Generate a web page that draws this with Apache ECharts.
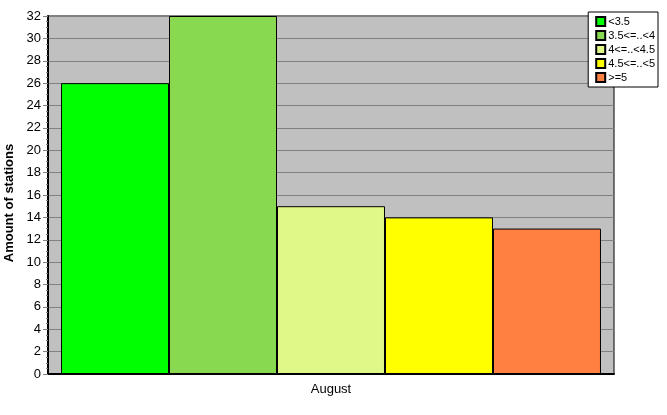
<!DOCTYPE html>
<html>
<head>
<meta charset="utf-8">
<script src="https://cdn.jsdelivr.net/npm/echarts@6/dist/echarts.min.js"></script>
<style>
  html, body { margin: 0; padding: 0; background: #fff; }
  #chart { width: 667px; height: 415px; }
</style>
</head>
<body>
<div id="chart"></div>
<script>
const categories = ['August']
const seriesNames = ['<3.5', '3.5<=..<4', '4<=..<4.5', '4.5<=..<5', '>=5']
const seriesValues = [[26], [32], [15], [14], [13]]
const seriesColors = ['#00ff00', '#88d850', '#e0f888', '#ffff00', '#ff8040']

const chart = echarts.init(document.getElementById('chart'), null, { renderer: 'canvas' })
const font = 'Liberation Sans, Arial, sans-serif'

chart.setOption({
  animation: false,
  backgroundColor: '#ffffff',
  textStyle: { fontFamily: font },
  grid: {
    left: 48, right: 53, top: 16, bottom: 41,
    outerBoundsMode: 'none',
    containLabel: false,
    show: true,
    backgroundColor: '#c0c0c0',
    borderColor: '#000000',
    borderWidth: 1
  },
  legend: {
    orient: 'vertical',
    right: 9,
    top: 12,
    backgroundColor: '#ffffff',
    borderColor: '#000000',
    borderWidth: 1,
    padding: [4, 3, 4, 7],
    itemWidth: 9,
    itemHeight: 9,
    itemGap: 3,
    icon: 'rect',
    textStyle: { fontFamily: font, fontSize: 11, color: '#000', padding: [0, 0, 0, -2] },
    data: seriesNames
  },
  xAxis: {
    type: 'category',
    data: categories,
    axisLine: { lineStyle: { color: '#000', width: 2 } },
    axisTick: { alignWithLabel: true, length: 5, lineStyle: { color: '#808080' } },
    axisLabel: { color: '#000', fontSize: 13, margin: 9, fontFamily: font },
    splitLine: { show: false }
  },
  yAxis: {
    type: 'value',
    min: 0,
    max: 32,
    interval: 2,
    name: 'Amount of stations',
    nameLocation: 'middle',
    nameGap: 29,
    nameTextStyle: { fontWeight: 'bold', fontSize: 13, color: '#000', fontFamily: font, padding: [0, 16, 0, 0] },
    axisLine: { show: true, lineStyle: { color: '#000', width: 2 } },
    axisTick: { show: true, length: 5, lineStyle: { color: '#808080' } },
    minorTick: { show: true, splitNumber: 4, length: 2, lineStyle: { color: '#808080' } },
    axisLabel: { color: '#000', fontSize: 13, margin: 7, fontFamily: font },
    splitLine: { lineStyle: { color: '#808080', width: 1 } }
  },
  series: seriesNames.map((name, i) => ({
    name,
    type: 'bar',
    data: seriesValues[i],
    barGap: '0%',
    barCategoryGap: '4.6%',
    itemStyle: { color: seriesColors[i], borderColor: '#000', borderWidth: 1 }
  }))
})
</script>
</body>
</html>
